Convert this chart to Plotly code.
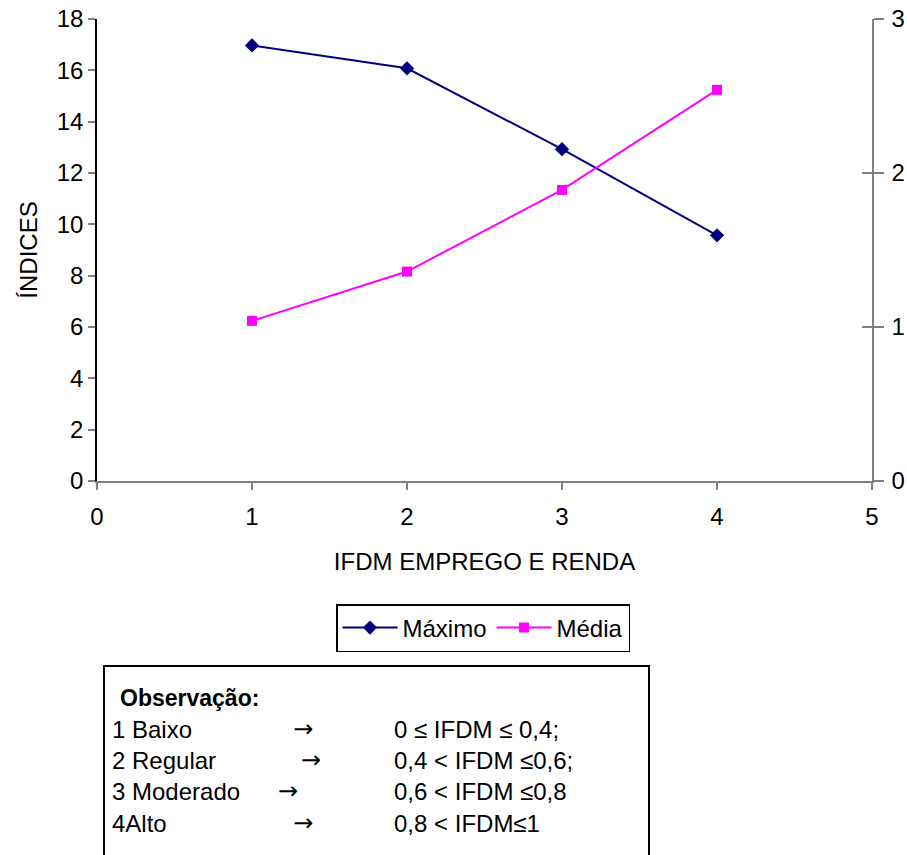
import plotly.graph_objects as go

# ---- data ----
ifdm_classes = [1, 2, 3, 4]
maximo = [16.97, 16.08, 12.93, 9.57]     # left axis
media = [1.04, 1.36, 1.89, 2.54]         # right axis

obs_labels = ["1 Baixo", "2 Regular", "3 Moderado", "4Alto"]
obs_ranges = ["0 \u2264 IFDM \u2264 0,4;", "0,4 < IFDM \u22640,6;", "0,6 < IFDM \u22640,8", "0,8 < IFDM\u22641"]
arrow_indent = [2, 3, 0, 2]   # leading spaces before each arrow (text layout only)

FONT = "Liberation Sans, Arial, sans-serif"
W, H = 907, 855
L, R, T, B = 97, 35, 19, 374
PW, PH = W - L - R, H - T - B


def px(xp):
    return (xp - L) / PW


def py(yp):
    return (H - B - yp) / PH


fig = go.Figure()
fig.add_trace(go.Scatter(
    x=ifdm_classes, y=maximo, name="Máximo", mode="lines+markers",
    line=dict(color="#000080", width=2),
    marker=dict(symbol="diamond", size=11, color="#000080"),
    yaxis="y"))
fig.add_trace(go.Scatter(
    x=ifdm_classes, y=media, name="Média", mode="lines+markers",
    line=dict(color="#FF00FF", width=2),
    marker=dict(symbol="square", size=10, color="#FF00FF"),
    yaxis="y2"))
# empty helper trace to draw inner half of right-axis cross ticks
fig.add_trace(go.Scatter(x=[], y=[], yaxis="y3", showlegend=False, hoverinfo="skip"))

axis_font = dict(family=FONT, size=24, color="black")

fig.update_layout(
    width=W, height=H,
    margin=dict(l=L, r=R, t=T, b=B, pad=0, autoexpand=False),
    paper_bgcolor="white", plot_bgcolor="white",
    font=dict(family=FONT, size=24, color="black"),
    showlegend=True,
    xaxis=dict(range=[0, 5], dtick=1, tick0=0, showgrid=False, zeroline=False,
               automargin=False,
               showline=True, linecolor="#808080", linewidth=1.5,
               ticks="outside", ticklen=7, tickcolor="#808080", tickwidth=1.5,
               tickfont=axis_font, ticklabelstandoff=6,
               title=dict(text="IFDM EMPREGO E RENDA", font=axis_font, standoff=25)),
    yaxis=dict(range=[0, 18], dtick=2, tick0=0, showgrid=False, zeroline=False,
               automargin=False,
               showline=True, linecolor="black", linewidth=1.5,
               ticks="outside", ticklen=7, tickcolor="#808080", tickwidth=1.5,
               tickfont=axis_font,
               title=dict(text="ÍNDICES", font=axis_font, standoff=12)),
    yaxis2=dict(range=[0, 3], dtick=1, tick0=0, overlaying="y", side="right",
                automargin=False,
                showgrid=False, zeroline=False, showline=True, linecolor="#808080",
                linewidth=1.5, ticks="outside", ticklen=10, tickcolor="#808080",
                tickwidth=1.5, tickfont=axis_font, ticklabelstandoff=3),
    yaxis3=dict(range=[0, 3], dtick=1, tick0=0, overlaying="y", side="right",
                anchor="x", showgrid=False, zeroline=False, showline=False,
                automargin=False,
                ticks="inside", ticklen=10, tickcolor="#808080", tickwidth=1.5,
                showticklabels=False),
    legend=dict(orientation="h", x=px(483), xanchor="center", y=py(604), yanchor="top",
                bordercolor="black", borderwidth=1.5, bgcolor="white",
                font=dict(family=FONT, size=24, color="black"),
                itemwidth=55, tracegroupgap=0),
)

# observation box
fig.add_shape(type="rect", xref="paper", yref="paper",
              x0=px(104), x1=px(649), y0=py(666), y1=py(900),
              line=dict(color="black", width=2), fillcolor="rgba(0,0,0,0)")

fig.add_annotation(xref="paper", yref="paper", x=px(118), y=py(698),
                   xanchor="left", yanchor="middle", showarrow=False,
                   text="<b>Observação:</b>",
                   font=dict(family=FONT, size=23, color="black"))

BOX_SIZE = 24
block_center = 776
fig.add_annotation(xref="paper", yref="paper", x=px(110), y=py(block_center),
                   xanchor="left", yanchor="middle", align="left", showarrow=False,
                   text="<br>".join(obs_labels),
                   font=dict(family=FONT, size=BOX_SIZE, color="black"))
fig.add_annotation(xref="paper", yref="paper", x=px(276), y=py(block_center),
                   xanchor="left", yanchor="middle", align="left", showarrow=False,
                   text="<br>".join("\u00a0" * n + "\u2192" for n in arrow_indent),
                   font=dict(family="DejaVu Sans", size=BOX_SIZE, color="black"))
fig.add_annotation(xref="paper", yref="paper", x=px(392), y=py(block_center),
                   xanchor="left", yanchor="middle", align="left", showarrow=False,
                   text="<br>".join(obs_ranges),
                   font=dict(family=FONT, size=BOX_SIZE, color="black"))

fig.write_html("out.html")
